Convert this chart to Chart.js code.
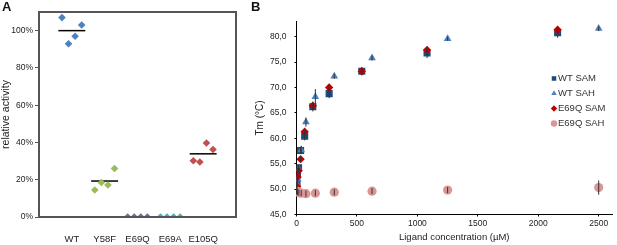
<!DOCTYPE html>
<html>
<head>
<meta charset="utf-8">
<script src="https://cdn.jsdelivr.net/npm/chart.js@4.4.0/dist/chart.umd.min.js"></script>
<style>
  body { margin: 0; background: #fff; }
  #wrap { position: relative; width: 617px; height: 245px; }
  #chartA { position: absolute; left: 0; top: 0; }
  #chartB { position: absolute; left: 245px; top: 0; }
  .lab { position: absolute; font: bold 13px "Liberation Sans", Arial, sans-serif; color: #111; }
</style>
</head>
<body>
<div id="wrap">
  <canvas id="chartA" width="245" height="245"></canvas>
  <canvas id="chartB" width="372" height="245"></canvas>
  <div class="lab" style="left:2px;top:-1px">A</div>
  <div class="lab" style="left:251px;top:-1px">B</div>
</div>
<script>
// ---- panel A: relative activity ----
var mutants = ["WT", "Y58F", "E69Q", "E69A", "E105Q"];
var mutantColors = ["#4f81bd", "#9bbb59", "#8064a2", "#4bacc6", "#c0504d"];
var replicateOffsets = [-0.3, -0.1, 0.1, 0.3];
var wtActivity = [107, 93, 97, 103];
var y58fActivity = [14.5, 18.5, 17.2, 26];
var e69qActivity = [0, 0, 0, 0];
var e69aActivity = [0, 0, 0, 0];
var e105qActivity = [30.2, 29.5, 39.7, 36.2];
var meanActivity = [100, 19.3, null, null, 33.9];

// ---- panel B: thermal shift ----
var samConc = [0, 4.2, 8.4, 16.9, 33.75, 67.5, 135, 270, 540, 1080, 2160];
var sahConc = [0, 4.9, 9.8, 19.5, 39, 78, 156, 312.5, 625, 1250, 2500];
var wtSam = [50.4, 51.0, 52.8, 54.2, 57.6, 60.4, 66.2, 68.8, 73.2, 76.8, 80.8];
var wtSamErr = [0.4, 0.5, 0.6, 0.6, 0.7, 0.8, 0.9, 0.9, 0.8, 1.0, 1.0];
var wtSah = [50.2, 51.0, 52.0, 54.0, 57.7, 63.2, 68.2, 72.2, 75.8, 79.6, 81.6];
var wtSahErr = [0.5, 0.5, 0.6, 0.8, 0.8, 0.9, 1.5, 0.5, 0.5, 0.4, 0.5];
var e69qSam = [49.8, 50.5, 52.4, 53.6, 55.9, 61.3, 66.4, 70.0, 73.2, 77.4, 81.4];
var e69qSamErr = [0.4, 0.4, 0.5, 0.5, 0.6, 0.6, 0.8, 0.6, 0.6, 0.6, 0.5];
var e69qSah = [49.6, 49.4, 49.5, 49.3, 49.2, 49.1, 49.2, 49.4, 49.6, 49.8, 50.3];
var e69qSahErr = [0.6, 0.6, 0.6, 0.6, 0.6, 0.6, 0.6, 0.6, 0.6, 0.6, 1.4];
var concTicks = [0, 500, 1000, 1500, 2000, 2500];

var FONT = "'Liberation Sans', Arial, sans-serif";
Chart.defaults.font.family = FONT;
Chart.defaults.color = "#333";

var activityTable = [wtActivity, y58fActivity, e69qActivity, e69aActivity, e105qActivity];

var datasetsA = [];
mutants.forEach(function (name, i) {
  datasetsA.push({
    type: "scatter",
    label: name,
    data: replicateOffsets.map(function (o, k) { return { x: i + 1 + o, y: activityTable[i][k] }; }),
    backgroundColor: mutantColors[i],
    borderColor: mutantColors[i],
    pointStyle: "rectRot",
    pointRadius: 3.8,
    borderWidth: 0,
  });
});
meanActivity.forEach(function (m, i) {
  if (m === null) return;
  datasetsA.push({
    type: "line",
    label: "mean " + mutants[i],
    data: [{ x: i + 1 - 0.41, y: m }, { x: i + 1 + 0.41, y: m }],
    borderColor: "#000",
    borderWidth: 1.5,
    pointRadius: 0,
  });
});

// frame round the plot of panel A
var framePlugin = {
  id: "frame",
  afterDraw: function (chart) {
    var a = chart.chartArea, ctx = chart.ctx;
    ctx.save();
    ctx.strokeStyle = "#555";
    ctx.lineWidth = 2;
    ctx.strokeRect(a.left, a.top, a.right - a.left, a.bottom - a.top);
    ctx.restore();
  },
};

var configA = {
  type: "scatter",
  data: { datasets: datasetsA },
  options: {
    responsive: false,
    animation: false,
    devicePixelRatio: 1,
    layout: { padding: { left: 0, top: 12, right: 9, bottom: 0 } },
    plugins: { legend: { display: false }, tooltip: { enabled: false } },
    scales: {
      x: {
        type: "linear",
        min: 0,
        max: 6,
        afterFit: function (s) { s.height = 28; },
        afterBuildTicks: function (s) {
          s.ticks = [1, 2, 3, 4, 5].map(function (v) { return { value: v }; });
        },
        ticks: {
          autoSkip: false,
          maxRotation: 0,
          padding: 9,
          color: "#222",
          font: { size: 9.5 },
          callback: function (v) { return mutants[v - 1] || ""; },
        },
        grid: { display: false },
        border: { color: "#000", width: 1 },
      },
      y: {
        min: 0,
        max: 110,
        afterFit: function (s) { s.width = 39; },
        afterBuildTicks: function (s) {
          s.ticks = s.ticks.filter(function (t) { return t.value % 20 === 0; });
        },
        ticks: {
          stepSize: 20,
          padding: 2,
          color: "#222",
          font: { size: 8.5 },
          callback: function (v) { return v + "%"; },
        },
        grid: { drawOnChartArea: false, tickLength: 4, color: "#555" },
        border: { color: "#000", width: 1 },
        title: {
          display: true,
          text: "relative activity",
          color: "#222",
          font: { size: 10.5 },
          padding: { top: 0, bottom: 0 },
        },
      },
    },
  },
  plugins: [framePlugin],
};

var chartA = new Chart(document.getElementById("chartA"), configA);

// ---- panel B ----
function pts(xs, ys) {
  return xs.map(function (x, i) { return { x: x, y: ys[i] }; });
}

var datasetsB = [
  { label: "WT SAM", data: pts(samConc, wtSam), errors: wtSamErr, backgroundColor: "#1f497d", borderColor: "#1f497d", pointStyle: "rect", pointRadius: 5, order: 3 },
  { label: "WT SAH", data: pts(sahConc, wtSah), errors: wtSahErr, backgroundColor: "#4f81bd", borderColor: "#4f81bd", pointStyle: "triangle", pointRadius: 4.5, order: 2 },
  { label: "E69Q SAM", data: pts(samConc, e69qSam), errors: e69qSamErr, backgroundColor: "#c00000", borderColor: "#c00000", pointStyle: "rectRot", pointRadius: 4.2, order: 1 },
  { label: "E69Q SAH", data: pts(sahConc, e69qSah), errors: e69qSahErr, backgroundColor: "#d99694", borderColor: "#d99694", pointStyle: "circle", pointRadius: 4.6, order: 0 },
];

// vertical error bars
var errorBarPlugin = {
  id: "errorBars",
  afterDatasetsDraw: function (chart) {
    var ctx = chart.ctx, ys = chart.scales.y;
    ctx.save();
    ctx.strokeStyle = "#333";
    ctx.lineWidth = 1;
    chart.data.datasets.forEach(function (ds, di) {
      if (!ds.errors) return;
      var meta = chart.getDatasetMeta(di);
      meta.data.forEach(function (el, i) {
        var v = ds.data[i].y, e = ds.errors[i];
        ctx.beginPath();
        ctx.moveTo(el.x, ys.getPixelForValue(v + e));
        ctx.lineTo(el.x, ys.getPixelForValue(v - e));
        ctx.stroke();
      });
    });
    ctx.restore();
  },
};

// legend drawn inside the plot area
var innerLegend = {
  id: "innerLegend",
  afterDraw: function (chart) {
    var ctx = chart.ctx, a = chart.chartArea;
    var x0 = a.right - 58, y0 = a.top + 57;
    ctx.save();
    ctx.font = "9.5px " + FONT;
    ctx.textBaseline = "middle";
    chart.data.datasets.forEach(function (ds, i) {
      var y = y0 + i * 15;
      ctx.fillStyle = ds.backgroundColor;
      ctx.strokeStyle = ds.borderColor;
      Chart.helpers.drawPoint(ctx, { pointStyle: ds.pointStyle, radius: 3.2, borderWidth: 0 }, x0, y);
      ctx.fillStyle = "#333";
      ctx.fillText(ds.label, x0 + 4, y);
    });
    ctx.restore();
  },
};

var configB = {
  type: "scatter",
  data: { datasets: datasetsB },
  options: {
    responsive: false,
    animation: false,
    devicePixelRatio: 1,
    layout: { padding: { left: 0, top: 21.5, right: 2.5, bottom: 0 } },
    elements: { point: { borderWidth: 0 } },
    plugins: { legend: { display: false }, tooltip: { enabled: false } },
    scales: {
      x: {
        type: "linear",
        min: 0,
        max: 2610,
        afterFit: function (s) { s.height = 30.5; },
        afterBuildTicks: function (s) {
          s.ticks = concTicks.map(function (v) { return { value: v }; });
        },
        ticks: {
          autoSkip: false,
          padding: 2,
          maxRotation: 0,
          color: "#222",
          font: { size: 8.5 },
          callback: function (v) { return String(v); },
        },
        grid: { drawOnChartArea: false, tickLength: 2, color: "#000" },
        border: { color: "#000", width: 1 },
        title: {
          display: true,
          text: "Ligand concentration (µM)",
          color: "#222",
          font: { size: 9.5 },
          padding: { top: 0, bottom: 2 },
        },
      },
      y: {
        min: 45,
        max: 83,
        afterFit: function (s) { s.width = 51.5; },
        afterBuildTicks: function (s) {
          s.ticks = s.ticks.filter(function (t) { return t.value % 5 === 0; });
        },
        ticks: {
          stepSize: 5,
          padding: 8,
          color: "#222",
          font: { size: 8.5 },
          callback: function (v) { return v.toFixed(1).replace(".", ","); },
        },
        grid: { drawOnChartArea: false, tickLength: 2, color: "#000" },
        border: { color: "#000", width: 1 },
        title: {
          display: true,
          text: "Tm (°C)",
          color: "#222",
          font: { size: 10 },
          padding: { top: 9, bottom: 0 },
        },
      },
    },
  },
  plugins: [errorBarPlugin, innerLegend],
};

var chartB = new Chart(document.getElementById("chartB"), configB);
</script>
</body>
</html>
